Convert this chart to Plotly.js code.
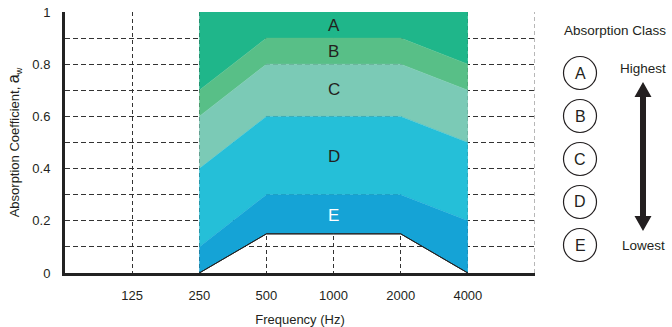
<!DOCTYPE html>
<html>
<head>
<meta charset="utf-8">
<script src="https://cdn.plot.ly/plotly-3.0.1.min.js"></script>
<style>html,body{margin:0;padding:0;background:#fff;}#chart{width:672px;height:327px;}</style>
</head>
<body>
<div id="chart"></div>
<script>
// ---- data ----
const freqLabels = ['125', '250', '500', '1000', '2000', '4000'];
const freqPos = [1, 2, 3, 4, 5, 6];
// class band frequencies (250 .. 4000 Hz)
const bandPos = [2, 3, 4, 5, 6];
const eLower = [0.0, 0.15, 0.15, 0.15, 0.0];
const dLower = [0.1, 0.3, 0.3, 0.3, 0.2];   // = top of E
const cLower = [0.4, 0.6, 0.6, 0.6, 0.5];   // = top of D
const bLower = [0.6, 0.8, 0.8, 0.8, 0.7];   // = top of C
const aLower = [0.7, 0.9, 0.9, 0.9, 0.8];   // = top of B
const aUpper = [1.0, 1.0, 1.0, 1.0, 1.0];
const classNames = ['A', 'B', 'C', 'D', 'E'];
const classLabelY = [0.95, 0.85, 0.705, 0.445, 0.22];
const classColors = ['#1fb68a', '#58bf87', '#7bcab6', '#25bfd8', '#15a3d6'];
const yTickVals = [0, 0.2, 0.4, 0.6, 0.8, 1];
const yTickText = ['0', '0.2', '0.4', '0.6', '0.8', '1'];
const yMinorVals = [0.1, 0.3, 0.5, 0.7, 0.9];

const FONT = 'Liberation Sans, Arial, sans-serif';
const TXT = '#231f20';

// ---- traces ----
const bounds = [eLower, dLower, cLower, bLower, aLower, aUpper];
const fillColors = [null, classColors[4], classColors[3], classColors[2], classColors[1], classColors[0]];
const traces = bounds.map((yy, i) => ({
  x: bandPos, y: yy, type: 'scatter', mode: 'lines',
  line: i === 0 ? {color: '#222', width: 1} : {color: fillColors[i], width: 0.5},
  fill: i === 0 ? 'none' : 'tonexty',
  fillcolor: fillColors[i],
  hoverinfo: 'skip', showlegend: false
}));
// redraw black lower boundary of E on top
traces.push({x: bandPos, y: eLower, type: 'scatter', mode: 'lines',
  line: {color: '#222', width: 1}, hoverinfo: 'skip', showlegend: false});

// ---- annotations ----
const W = 672, H = 327, ML = 65, MR = 137, MT = 12, MB = 54;
const pw = W - ML - MR, ph = H - MT - MB;
const px = x => (x - ML) / pw;
const py = y => (H - MB - y) / ph;

const annotations = [];
classNames.forEach((c, i) => {
  annotations.push({x: 4, y: classLabelY[i], xref: 'x', yref: 'y', text: c, showarrow: false,
    xanchor: 'center', yanchor: 'middle',
    font: {family: FONT, size: 17, color: c === 'E' ? '#ffffff' : TXT}});
});
const circleY = [73, 116, 159, 202, 245];
const shapes = [];
classNames.forEach((c, i) => {
  annotations.push({x: px(580), y: py(circleY[i]), xref: 'paper', yref: 'paper', text: c,
    xanchor: 'center', yanchor: 'middle',
    showarrow: false, font: {family: FONT, size: 16, color: TXT}});
  shapes.push({type: 'circle', xref: 'paper', yref: 'paper', xsizemode: 'pixel', ysizemode: 'pixel',
    xanchor: px(580), yanchor: py(circleY[i]), x0: -16.5, x1: 16.5, y0: -16.5, y1: 16.5,
    line: {color: TXT, width: 1.2}});
});
const sideText = [['Absorption Class', 615, 30], ['Highest', 643, 68], ['Lowest', 643, 245]];
sideText.forEach(t => annotations.push({x: px(t[1]), y: py(t[2]), xref: 'paper', yref: 'paper',
  text: t[0], xanchor: 'center', yanchor: 'middle', showarrow: false,
  font: {family: FONT, size: 13.5, color: TXT}}));

// double arrow
const ax = 643, sw = 3, hw = 8.5, topTip = 82, topBase = 97, botTip = 231, botBase = 216;
const pts = [[ax, topTip], [ax + hw, topBase], [ax + sw, topBase], [ax + sw, botBase], [ax + hw, botBase],
  [ax, botTip], [ax - hw, botBase], [ax - sw, botBase], [ax - sw, topBase], [ax - hw, topBase]];
const path = 'M ' + pts.map(p => px(p[0]).toFixed(5) + ',' + py(p[1]).toFixed(5)).join(' L ') + ' Z';
shapes.push({type: 'path', xref: 'paper', yref: 'paper', path: path, fillcolor: '#231f20', line: {width: 0}});
// right dashed border
shapes.push({type: 'line', xref: 'x', yref: 'y', x0: 7, x1: 7, y0: 0, y1: 1, layer: 'below',
  line: {color: '#888', width: 1.2, dash: '4px,3px'}});

const layout = {
  width: W, height: H,
  margin: {l: ML, r: MR, t: MT, b: MB, pad: 0},
  paper_bgcolor: '#fff', plot_bgcolor: '#fff',
  font: {family: FONT, color: TXT, size: 13},
  showlegend: false,
  xaxis: {
    range: [0, 7], tickvals: freqPos, ticktext: freqLabels,
    showgrid: true, gridcolor: '#333', gridwidth: 1.1, griddash: '4px,3px',
    zeroline: false, showline: true, linecolor: '#222', linewidth: 3,
    ticks: 'outside', ticklen: 8, tickcolor: 'rgba(0,0,0,0)',
    tickfont: {family: FONT, size: 13, color: TXT},
    title: {text: 'Frequency (Hz)', font: {family: FONT, size: 13, color: TXT}, standoff: 14},
    fixedrange: true
  },
  yaxis: {
    range: [0, 1], tickvals: yTickVals, ticktext: yTickText,
    showgrid: true, gridcolor: '#333', gridwidth: 1.1, griddash: '5px,3px',
    minor: {tickvals: yMinorVals, showgrid: true, gridcolor: '#333', gridwidth: 1.1,
      griddash: '5px,3px', ticks: ''},
    zeroline: false, showline: true, linecolor: '#222', linewidth: 3,
    ticks: 'outside', ticklen: 9, tickcolor: 'rgba(0,0,0,0)',
    tickfont: {family: FONT, size: 13, color: TXT},
    title: {text: "Absorption Coefficient, <span style='font-size:16px'>a</span><sub>w</sub>",
      font: {family: FONT, size: 13, color: TXT}, standoff: 10},
    fixedrange: true
  },
  annotations: annotations,
  shapes: shapes
};

Plotly.newPlot('chart', traces, layout, {displayModeBar: false, staticPlot: true});
</script>
</body>
</html>
